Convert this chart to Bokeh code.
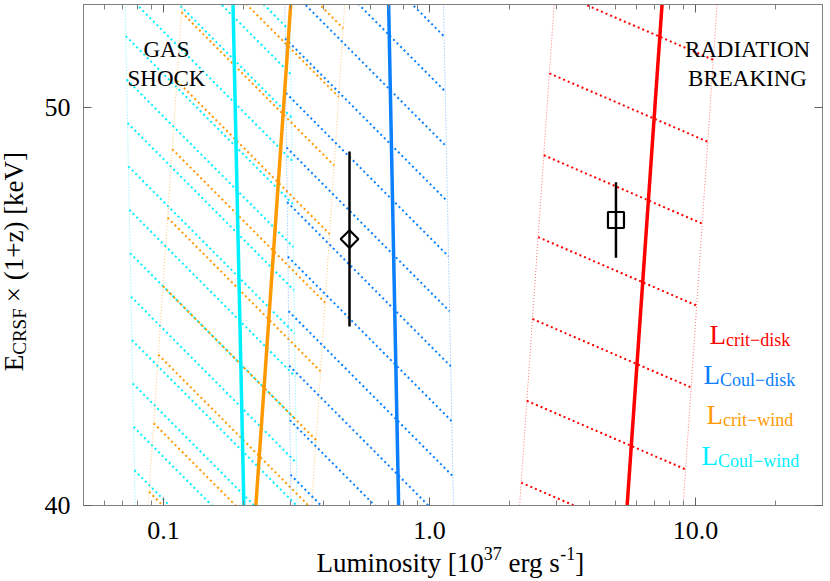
from math import log10, pi
from bokeh.plotting import figure
from bokeh.layouts import column, row
from bokeh.models import Range1d, FixedTicker, PrintfTickFormatter, LogAxis, LinearAxis, Label
from bokeh.embed import file_html
from bokeh.resources import INLINE

# ---------------- data ----------------
E_ends = [40.0, 52.6]                      # keV, bottom/top of the plotted range

L_crit_disk = [5.53, 7.48]
L_crit_disk_lo = [2.18, 2.94]
L_crit_disk_hi = [8.98, 12.04]

L_coul_disk = [0.765, 0.7015]
L_coul_disk_lo = [0.301, 0.2856]
L_coul_disk_hi = [1.23, 1.128]

L_crit_wind = [0.2223, 0.3006]
L_crit_wind_lo = [0.0875, 0.1173]
L_crit_wind_hi = [0.3606, 0.4797]

L_coul_wind = [0.2004, 0.1824]
L_coul_wind_lo = [0.0782, 0.0717]
L_coul_wind_hi = [0.3177, 0.2984]

obs_L = [0.50, 5.02]
obs_E = [46.7, 47.18]
obs_dE = [2.2, 0.95]

x_ticks = [0.1, 1.0, 10.0]
x_minor = [0.05, 0.06, 0.07, 0.08, 0.09, 0.2, 0.3, 0.4, 0.5, 0.6, 0.7, 0.8, 0.9,
           2, 3, 4, 5, 6, 7, 8, 9, 20, 30]
y_ticks = [40, 50]

legend_names = ["crit\u2212disk", "Coul\u2212disk", "crit\u2212wind", "Coul\u2212wind"]

# ---------------- layout / style ----------------
TOTAL_W, TOTAL_H = 830, 581
LAB_W = 40                  # strip for the y-axis title
XLAB_H = 36                 # strip for the x-axis title
W, H = TOTAL_W - LAB_W, TOTAL_H - XLAB_H
ML, MR, MT, MB = 43, 8, 4, 40
X0, X1 = 0.05, 30.0
Y0, Y1 = 40.0, 52.6
FONT = "Liberation Serif"
BASE_FIX = 9                # renderer puts alphabetic baselines ~9px low

RED = "#ff0000"
BLUE = "#0a80ff"
ORANGE = "#ff9900"
CYAN = "#00f0ff"
GREY = "#808080"

FX0 = LAB_W + ML            # page x of frame left
FX1 = TOTAL_W - MR          # page x of frame right
FY0 = MT                    # page y of frame top
FY1 = H - MB                # page y of frame bottom


def fx(px):
    """page pixel x -> data x"""
    return 10 ** (log10(X0) + (px - FX0) / (FX1 - FX0) * log10(X1 / X0))


def fy(py):
    """page pixel y -> data y"""
    return Y1 - (py - FY0) / (FY1 - FY0) * (Y1 - Y0)


p = figure(width=W, height=H, x_axis_type="log",
           x_range=Range1d(X0, X1), y_range=Range1d(Y0, Y1),
           output_backend="svg", toolbar_location=None,
           min_border_left=ML, min_border_right=MR,
           min_border_top=MT, min_border_bottom=MB)
p.xgrid.visible = False
p.ygrid.visible = False
p.outline_line_color = GREY
p.background_fill_color = "white"
p.border_fill_color = "white"

xt = FixedTicker(ticks=x_ticks, minor_ticks=x_minor)
yt = FixedTicker(ticks=y_ticks, minor_ticks=[])

xa = p.xaxis[0]
xa.ticker = xt
xa.formatter = PrintfTickFormatter(format="%.1f")
ya = p.yaxis[0]
ya.ticker = yt

for ax in (xa, ya):
    ax.major_label_text_font = FONT
    ax.major_label_text_font_size = "26px"
    ax.major_label_text_color = "black"
    ax.axis_line_color = GREY
    ax.major_tick_line_color = "#606060"
    ax.minor_tick_line_color = GREY
    ax.major_tick_in = 8
    ax.major_tick_out = 0
    ax.minor_tick_in = 5
    ax.minor_tick_out = 0
xa.major_label_standoff = 16
ya.major_label_standoff = 13

top = LogAxis(ticker=xt, major_label_text_font_size="1px", major_label_text_alpha=0,
              major_label_standoff=0,
              axis_line_color=GREY, major_tick_line_color="#606060", minor_tick_line_color=GREY,
              major_tick_in=8, major_tick_out=0, minor_tick_in=5, minor_tick_out=0)
right = LinearAxis(ticker=yt, major_label_text_font_size="1px", major_label_text_alpha=0,
                   major_label_standoff=0,
                   axis_line_color=GREY, major_tick_line_color="#606060",
                   major_tick_in=8, major_tick_out=0, minor_tick_in=0, minor_tick_out=0)
p.add_layout(top, "above")
p.add_layout(right, "right")


# ---------------- hatched bands ----------------
def band_hatch(lo, hi, s, c0, dc):
    blo = (log10(lo[1]) - log10(lo[0])) / (E_ends[1] - E_ends[0])
    alo = log10(lo[0]) - blo * E_ends[0]
    bhi = (log10(hi[1]) - log10(hi[0])) / (E_ends[1] - E_ends[0])
    ahi = log10(hi[0]) - bhi * E_ends[0]
    xs, ys = [], []
    for k in range(-60, 61):
        c = c0 + k * dc
        e1 = (c - s * alo) / (1 + s * blo)
        e2 = (c - s * ahi) / (1 + s * bhi)
        if e1 < Y0 - 0.5 or e2 > Y1 + 0.5:
            continue
        xs.append([10 ** (alo + blo * e1), 10 ** (ahi + bhi * e2)])
        ys.append([e1, e2])
    return xs, ys


bands = [
    (L_coul_wind_lo, L_coul_wind_hi, CYAN, 6.72, 37.71, 1.07),
    (L_crit_wind_lo, L_crit_wind_hi, ORANGE, 6.72, 35.10, 1.84),
    (L_coul_disk_lo, L_coul_disk_hi, BLUE, 6.72, 50.81, 1.355),
    (L_crit_disk_lo, L_crit_disk_hi, RED, 2.89, 52.17, 2.12),
]
for lo, hi, col, s, c0, dc in bands:
    hx, hy = band_hatch(lo, hi, s, c0, dc)
    p.multi_line(hx, hy, line_color=col, line_width=2, line_dash="2 3")
    p.line(lo, E_ends, line_color=col, line_alpha=0.55, line_width=1, line_dash="1 2")
    p.line(hi, E_ends, line_color=col, line_alpha=0.55, line_width=1, line_dash="1 2")

# ---------------- solid lines ----------------
for L, col in ((L_coul_wind, CYAN), (L_crit_wind, ORANGE), (L_coul_disk, BLUE), (L_crit_disk, RED)):
    p.line(L, E_ends, line_color=col, line_width=3.5)

# ---------------- observations ----------------
p.segment(x0=obs_L, y0=[e - d for e, d in zip(obs_E, obs_dE)],
          x1=obs_L, y1=[e + d for e, d in zip(obs_E, obs_dE)],
          line_color="black", line_width=2.5)
p.scatter([obs_L[0]], [obs_E[0]], marker="square", size=12.5, angle=pi / 4,
          fill_alpha=0, line_color="black", line_width=2.2)
p.scatter([obs_L[1]], [obs_E[1]], marker="square", size=16,
          fill_alpha=0, line_color="black", line_width=2.2)


# ---------------- texts ----------------
def lab(fig, text, x, y, size, color="black", angle=0.0, align="left", xo=0, yo=0):
    fig.add_layout(Label(x=x, y=y, text=text, text_font=FONT, text_font_size=f"{size}px",
                         text_color=color, angle=angle, text_align=align,
                         text_baseline="alphabetic", x_offset=xo, y_offset=yo))


# region names
lab(p, "GAS", fx(166), fy(58 - BASE_FIX), 23, align="center")
lab(p, "SHOCK", fx(166), fy(87 - BASE_FIX), 23, align="center")
lab(p, "RADIATION", fx(747), fy(58 - BASE_FIX), 23, align="center")
lab(p, "BREAKING", fx(747), fy(87 - BASE_FIX), 23, align="center")

# legend
leg_x = [709, 703, 706, 701]
leg_y = [343, 383, 423, 464]
for name, col, lx, ly in zip(legend_names, [RED, BLUE, ORANGE, CYAN], leg_x, leg_y):
    lab(p, "L", fx(lx), fy(ly - BASE_FIX), 27, color=col)
    lab(p, name, fx(lx), fy(ly - BASE_FIX), 18, color=col, xo=16.5, yo=-5)


def strip(w, h, x0, y0):
    f = figure(width=w, height=h, x_range=Range1d(x0, x0 + w), y_range=Range1d(y0 + h, y0),
               output_backend="svg", toolbar_location=None,
               min_border_left=0, min_border_right=0, min_border_top=0, min_border_bottom=0)
    f.axis.visible = False
    f.grid.visible = False
    f.outline_line_color = None
    f.background_fill_color = "white"
    f.border_fill_color = "white"
    return f


# y axis title (page coordinates inside its strip)
ylab = strip(LAB_W, H, 0, 0)
yx, yy = 13, 399
lab(ylab, "E", yx, yy, 27, angle=pi / 2)
lab(ylab, "CRSF", yx, yy, 19, angle=pi / 2, xo=6, yo=16.5)
lab(ylab, "\u00d7 (1+z) [keV]", yx, yy, 27, angle=pi / 2, yo=69)

# x axis title
xlab = strip(TOTAL_W, XLAB_H, 0, H)
xx, xy = 316, 571 - BASE_FIX
lab(xlab, "Luminosity [10", xx, xy, 27)
lab(xlab, "37", xx, xy, 18, xo=167.3, yo=9)
lab(xlab, "erg s", xx, xy, 27, xo=192)
lab(xlab, "-1", xx, xy, 18, xo=243.8, yo=9)
lab(xlab, "]", xx, xy, 27, xo=258.8)

layout = column(row(ylab, p, spacing=0), xlab, spacing=0)

open("out.html", "w").write(file_html(layout, INLINE))
